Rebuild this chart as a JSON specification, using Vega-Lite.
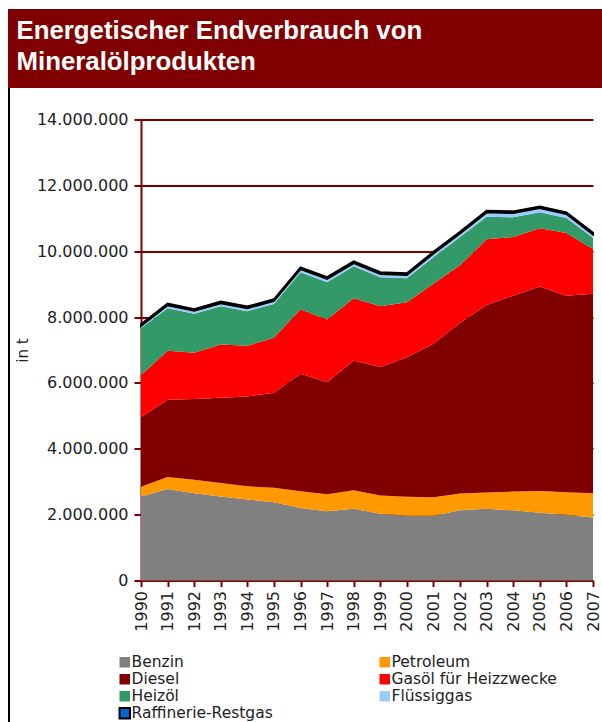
{
  "$schema": "https://vega.github.io/schema/vega-lite/v6.json",
  "background": "white",
  "padding": {"left": 8, "top": 9, "right": 0, "bottom": 0},
  "config": {
    "locale": {"number": {"decimal": ",", "thousands": ".", "grouping": [3], "currency": ["", " €"]}},
    "view": {"stroke": null},
    "concat": {"spacing": 0}
  },
  "datasets": {
    "verbrauch": [
      {"jahr": 1990, "sorte": "Benzin", "nr": 1, "tonnen": 2550000},
      {"jahr": 1990, "sorte": "Petroleum", "nr": 2, "tonnen": 300000},
      {"jahr": 1990, "sorte": "Diesel", "nr": 3, "tonnen": 2110000},
      {"jahr": 1990, "sorte": "Gasöl für Heizzwecke", "nr": 4, "tonnen": 1270000},
      {"jahr": 1990, "sorte": "Heizöl", "nr": 5, "tonnen": 1430000},
      {"jahr": 1990, "sorte": "Flüssiggas", "nr": 6, "tonnen": 70000},
      {"jahr": 1990, "sorte": "Raffinerie-Restgas", "nr": 7, "tonnen": 50000},
      {"jahr": 1991, "sorte": "Benzin", "nr": 1, "tonnen": 2780000},
      {"jahr": 1991, "sorte": "Petroleum", "nr": 2, "tonnen": 360000},
      {"jahr": 1991, "sorte": "Diesel", "nr": 3, "tonnen": 2350000},
      {"jahr": 1991, "sorte": "Gasöl für Heizzwecke", "nr": 4, "tonnen": 1490000},
      {"jahr": 1991, "sorte": "Heizöl", "nr": 5, "tonnen": 1290000},
      {"jahr": 1991, "sorte": "Flüssiggas", "nr": 6, "tonnen": 90000},
      {"jahr": 1991, "sorte": "Raffinerie-Restgas", "nr": 7, "tonnen": 50000},
      {"jahr": 1992, "sorte": "Benzin", "nr": 1, "tonnen": 2650000},
      {"jahr": 1992, "sorte": "Petroleum", "nr": 2, "tonnen": 410000},
      {"jahr": 1992, "sorte": "Diesel", "nr": 3, "tonnen": 2450000},
      {"jahr": 1992, "sorte": "Gasöl für Heizzwecke", "nr": 4, "tonnen": 1410000},
      {"jahr": 1992, "sorte": "Heizöl", "nr": 5, "tonnen": 1180000},
      {"jahr": 1992, "sorte": "Flüssiggas", "nr": 6, "tonnen": 90000},
      {"jahr": 1992, "sorte": "Raffinerie-Restgas", "nr": 7, "tonnen": 50000},
      {"jahr": 1993, "sorte": "Benzin", "nr": 1, "tonnen": 2550000},
      {"jahr": 1993, "sorte": "Petroleum", "nr": 2, "tonnen": 410000},
      {"jahr": 1993, "sorte": "Diesel", "nr": 3, "tonnen": 2590000},
      {"jahr": 1993, "sorte": "Gasöl für Heizzwecke", "nr": 4, "tonnen": 1620000},
      {"jahr": 1993, "sorte": "Heizöl", "nr": 5, "tonnen": 1160000},
      {"jahr": 1993, "sorte": "Flüssiggas", "nr": 6, "tonnen": 90000},
      {"jahr": 1993, "sorte": "Raffinerie-Restgas", "nr": 7, "tonnen": 50000},
      {"jahr": 1994, "sorte": "Benzin", "nr": 1, "tonnen": 2460000},
      {"jahr": 1994, "sorte": "Petroleum", "nr": 2, "tonnen": 400000},
      {"jahr": 1994, "sorte": "Diesel", "nr": 3, "tonnen": 2730000},
      {"jahr": 1994, "sorte": "Gasöl für Heizzwecke", "nr": 4, "tonnen": 1540000},
      {"jahr": 1994, "sorte": "Heizöl", "nr": 5, "tonnen": 1050000},
      {"jahr": 1994, "sorte": "Flüssiggas", "nr": 6, "tonnen": 90000},
      {"jahr": 1994, "sorte": "Raffinerie-Restgas", "nr": 7, "tonnen": 50000},
      {"jahr": 1995, "sorte": "Benzin", "nr": 1, "tonnen": 2380000},
      {"jahr": 1995, "sorte": "Petroleum", "nr": 2, "tonnen": 440000},
      {"jahr": 1995, "sorte": "Diesel", "nr": 3, "tonnen": 2880000},
      {"jahr": 1995, "sorte": "Gasöl für Heizzwecke", "nr": 4, "tonnen": 1670000},
      {"jahr": 1995, "sorte": "Heizöl", "nr": 5, "tonnen": 1030000},
      {"jahr": 1995, "sorte": "Flüssiggas", "nr": 6, "tonnen": 90000},
      {"jahr": 1995, "sorte": "Raffinerie-Restgas", "nr": 7, "tonnen": 50000},
      {"jahr": 1996, "sorte": "Benzin", "nr": 1, "tonnen": 2200000},
      {"jahr": 1996, "sorte": "Petroleum", "nr": 2, "tonnen": 510000},
      {"jahr": 1996, "sorte": "Diesel", "nr": 3, "tonnen": 3570000},
      {"jahr": 1996, "sorte": "Gasöl für Heizzwecke", "nr": 4, "tonnen": 1960000},
      {"jahr": 1996, "sorte": "Heizöl", "nr": 5, "tonnen": 1120000},
      {"jahr": 1996, "sorte": "Flüssiggas", "nr": 6, "tonnen": 100000},
      {"jahr": 1996, "sorte": "Raffinerie-Restgas", "nr": 7, "tonnen": 50000},
      {"jahr": 1997, "sorte": "Benzin", "nr": 1, "tonnen": 2100000},
      {"jahr": 1997, "sorte": "Petroleum", "nr": 2, "tonnen": 520000},
      {"jahr": 1997, "sorte": "Diesel", "nr": 3, "tonnen": 3400000},
      {"jahr": 1997, "sorte": "Gasöl für Heizzwecke", "nr": 4, "tonnen": 1910000},
      {"jahr": 1997, "sorte": "Heizöl", "nr": 5, "tonnen": 1130000},
      {"jahr": 1997, "sorte": "Flüssiggas", "nr": 6, "tonnen": 100000},
      {"jahr": 1997, "sorte": "Raffinerie-Restgas", "nr": 7, "tonnen": 50000},
      {"jahr": 1998, "sorte": "Benzin", "nr": 1, "tonnen": 2180000},
      {"jahr": 1998, "sorte": "Petroleum", "nr": 2, "tonnen": 560000},
      {"jahr": 1998, "sorte": "Diesel", "nr": 3, "tonnen": 3940000},
      {"jahr": 1998, "sorte": "Gasöl für Heizzwecke", "nr": 4, "tonnen": 1890000},
      {"jahr": 1998, "sorte": "Heizöl", "nr": 5, "tonnen": 970000},
      {"jahr": 1998, "sorte": "Flüssiggas", "nr": 6, "tonnen": 100000},
      {"jahr": 1998, "sorte": "Raffinerie-Restgas", "nr": 7, "tonnen": 50000},
      {"jahr": 1999, "sorte": "Benzin", "nr": 1, "tonnen": 2030000},
      {"jahr": 1999, "sorte": "Petroleum", "nr": 2, "tonnen": 550000},
      {"jahr": 1999, "sorte": "Diesel", "nr": 3, "tonnen": 3900000},
      {"jahr": 1999, "sorte": "Gasöl für Heizzwecke", "nr": 4, "tonnen": 1850000},
      {"jahr": 1999, "sorte": "Heizöl", "nr": 5, "tonnen": 880000},
      {"jahr": 1999, "sorte": "Flüssiggas", "nr": 6, "tonnen": 100000},
      {"jahr": 1999, "sorte": "Raffinerie-Restgas", "nr": 7, "tonnen": 50000},
      {"jahr": 2000, "sorte": "Benzin", "nr": 1, "tonnen": 1970000},
      {"jahr": 2000, "sorte": "Petroleum", "nr": 2, "tonnen": 570000},
      {"jahr": 2000, "sorte": "Diesel", "nr": 3, "tonnen": 4240000},
      {"jahr": 2000, "sorte": "Gasöl für Heizzwecke", "nr": 4, "tonnen": 1670000},
      {"jahr": 2000, "sorte": "Heizöl", "nr": 5, "tonnen": 730000},
      {"jahr": 2000, "sorte": "Flüssiggas", "nr": 6, "tonnen": 100000},
      {"jahr": 2000, "sorte": "Raffinerie-Restgas", "nr": 7, "tonnen": 50000},
      {"jahr": 2001, "sorte": "Benzin", "nr": 1, "tonnen": 1970000},
      {"jahr": 2001, "sorte": "Petroleum", "nr": 2, "tonnen": 560000},
      {"jahr": 2001, "sorte": "Diesel", "nr": 3, "tonnen": 4660000},
      {"jahr": 2001, "sorte": "Gasöl für Heizzwecke", "nr": 4, "tonnen": 1820000},
      {"jahr": 2001, "sorte": "Heizöl", "nr": 5, "tonnen": 810000},
      {"jahr": 2001, "sorte": "Flüssiggas", "nr": 6, "tonnen": 110000},
      {"jahr": 2001, "sorte": "Raffinerie-Restgas", "nr": 7, "tonnen": 50000},
      {"jahr": 2002, "sorte": "Benzin", "nr": 1, "tonnen": 2130000},
      {"jahr": 2002, "sorte": "Petroleum", "nr": 2, "tonnen": 510000},
      {"jahr": 2002, "sorte": "Diesel", "nr": 3, "tonnen": 5190000},
      {"jahr": 2002, "sorte": "Gasöl für Heizzwecke", "nr": 4, "tonnen": 1740000},
      {"jahr": 2002, "sorte": "Heizöl", "nr": 5, "tonnen": 860000},
      {"jahr": 2002, "sorte": "Flüssiggas", "nr": 6, "tonnen": 110000},
      {"jahr": 2002, "sorte": "Raffinerie-Restgas", "nr": 7, "tonnen": 50000},
      {"jahr": 2003, "sorte": "Benzin", "nr": 1, "tonnen": 2180000},
      {"jahr": 2003, "sorte": "Petroleum", "nr": 2, "tonnen": 490000},
      {"jahr": 2003, "sorte": "Diesel", "nr": 3, "tonnen": 5700000},
      {"jahr": 2003, "sorte": "Gasöl für Heizzwecke", "nr": 4, "tonnen": 1990000},
      {"jahr": 2003, "sorte": "Heizöl", "nr": 5, "tonnen": 690000},
      {"jahr": 2003, "sorte": "Flüssiggas", "nr": 6, "tonnen": 130000},
      {"jahr": 2003, "sorte": "Raffinerie-Restgas", "nr": 7, "tonnen": 50000},
      {"jahr": 2004, "sorte": "Benzin", "nr": 1, "tonnen": 2130000},
      {"jahr": 2004, "sorte": "Petroleum", "nr": 2, "tonnen": 570000},
      {"jahr": 2004, "sorte": "Diesel", "nr": 3, "tonnen": 5950000},
      {"jahr": 2004, "sorte": "Gasöl für Heizzwecke", "nr": 4, "tonnen": 1780000},
      {"jahr": 2004, "sorte": "Heizöl", "nr": 5, "tonnen": 600000},
      {"jahr": 2004, "sorte": "Flüssiggas", "nr": 6, "tonnen": 130000},
      {"jahr": 2004, "sorte": "Raffinerie-Restgas", "nr": 7, "tonnen": 50000},
      {"jahr": 2005, "sorte": "Benzin", "nr": 1, "tonnen": 2060000},
      {"jahr": 2005, "sorte": "Petroleum", "nr": 2, "tonnen": 660000},
      {"jahr": 2005, "sorte": "Diesel", "nr": 3, "tonnen": 6210000},
      {"jahr": 2005, "sorte": "Gasöl für Heizzwecke", "nr": 4, "tonnen": 1770000},
      {"jahr": 2005, "sorte": "Heizöl", "nr": 5, "tonnen": 480000},
      {"jahr": 2005, "sorte": "Flüssiggas", "nr": 6, "tonnen": 130000},
      {"jahr": 2005, "sorte": "Raffinerie-Restgas", "nr": 7, "tonnen": 50000},
      {"jahr": 2006, "sorte": "Benzin", "nr": 1, "tonnen": 2000000},
      {"jahr": 2006, "sorte": "Petroleum", "nr": 2, "tonnen": 680000},
      {"jahr": 2006, "sorte": "Diesel", "nr": 3, "tonnen": 5970000},
      {"jahr": 2006, "sorte": "Gasöl für Heizzwecke", "nr": 4, "tonnen": 1900000},
      {"jahr": 2006, "sorte": "Heizöl", "nr": 5, "tonnen": 460000},
      {"jahr": 2006, "sorte": "Flüssiggas", "nr": 6, "tonnen": 120000},
      {"jahr": 2006, "sorte": "Raffinerie-Restgas", "nr": 7, "tonnen": 50000},
      {"jahr": 2007, "sorte": "Benzin", "nr": 1, "tonnen": 1910000},
      {"jahr": 2007, "sorte": "Petroleum", "nr": 2, "tonnen": 740000},
      {"jahr": 2007, "sorte": "Diesel", "nr": 3, "tonnen": 6060000},
      {"jahr": 2007, "sorte": "Gasöl für Heizzwecke", "nr": 4, "tonnen": 1360000},
      {"jahr": 2007, "sorte": "Heizöl", "nr": 5, "tonnen": 340000},
      {"jahr": 2007, "sorte": "Flüssiggas", "nr": 6, "tonnen": 100000},
      {"jahr": 2007, "sorte": "Raffinerie-Restgas", "nr": 7, "tonnen": 50000}
    ]
  },
  "vconcat": [
    {
      "width": 594,
      "height": 79,
      "view": {"fill": "#800000", "stroke": null},
      "data": {"values": [{"zeile": "Energetischer Endverbrauch von"}, {"zeile": "Mineralölprodukten"}]},
      "mark": {"type": "text", "align": "left", "baseline": "alphabetic", "font": "Liberation Sans", "fontWeight": "bold", "fontSize": 25.8, "color": "#ffffff", "dx": 8.5, "dy": 6},
      "encoding": {
        "x": {"value": 0},
        "y": {"field": "zeile", "type": "nominal", "sort": null, "axis": null, "scale": {"type": "point", "padding": 0.787}},
        "text": {"field": "zeile"}
      }
    },
    {
      "hconcat": [
        {
          "width": 2,
          "height": 666,
          "view": {"fill": "#000000", "stroke": null},
          "data": {"values": []},
          "mark": "point"
        },
        {
          "width": 452,
          "height": 461,
          "data": {"name": "verbrauch"},
          "mark": {"type": "area", "opacity": 1, "strokeWidth": 2, "interpolate": "linear"},
          "encoding": {
            "x": {
              "field": "jahr", "type": "quantitative",
              "scale": {"domain": [1990, 2007], "nice": false, "zero": false},
              "axis": {
                "title": null,
                "values": [1990, 1991, 1992, 1993, 1994, 1995, 1996, 1997, 1998, 1999, 2000, 2001, 2002, 2003, 2004, 2005, 2006, 2007],
                "format": "d",
                "labelAngle": 270, "labelAlign": "right", "labelBaseline": "middle",
                "labelFont": "DejaVu Sans", "labelFontSize": 16, "labelColor": "#222222",
                "labelPadding": 4, "labelOverlap": false, "labelFlush": false,
                "grid": false,
                "domainColor": "#800000", "domainWidth": 2,
                "tickColor": "#800000", "tickWidth": 2, "tickSize": 6
              }
            },
            "y": {
              "field": "tonnen", "type": "quantitative", "aggregate": "sum", "stack": "zero",
              "scale": {"domain": [0, 14000000], "nice": false},
              "axis": {
                "title": "in t",
                "titleFont": "DejaVu Sans", "titleFontSize": 15, "titleFontWeight": "normal", "titleColor": "#222222", "titlePadding": 6,
                "values": [0, 2000000, 4000000, 6000000, 8000000, 10000000, 12000000, 14000000],
                "format": ",d",
                "labelFont": "DejaVu Sans", "labelFontSize": 16, "labelColor": "#222222", "labelPadding": 6,
                "grid": true, "gridColor": "#800000", "gridWidth": 2,
                "domainColor": "#800000", "domainWidth": 2,
                "tickColor": "#800000", "tickWidth": 2, "tickSize": 7
              }
            },
            "order": {"field": "nr", "type": "quantitative"},
            "fill": {
              "field": "sorte", "type": "nominal",
              "scale": {
                "domain": ["Benzin", "Diesel", "Heizöl", "Raffinerie-Restgas", "Petroleum", "Gasöl für Heizzwecke", "Flüssiggas"],
                "range": ["#808080", "#800000", "#339966", "#0066cc", "#ff9900", "#ff0000", "#99ccff"]
              },
              "legend": {
                "title": null, "orient": "none", "legendX": -24, "legendY": 535,
                "columns": 2, "columnPadding": 102, "rowPadding": -5,
                "symbolType": "square", "symbolSize": 110, "symbolStrokeWidth": 2,
                "labelFont": "DejaVu Sans", "labelFontSize": 15.5, "labelColor": "#222222",
                "labelLimit": 300, "labelOffset": -1
              }
            },
            "stroke": {
              "field": "sorte", "type": "nominal",
              "scale": {
                "domain": ["Benzin", "Diesel", "Heizöl", "Raffinerie-Restgas", "Petroleum", "Gasöl für Heizzwecke", "Flüssiggas"],
                "range": ["transparent", "transparent", "transparent", "#000000", "transparent", "transparent", "transparent"]
              }
            }
          }
        }
      ],
      "resolve": {"legend": {"fill": "independent", "stroke": "independent"}},
      "spacing": 5,
      "center": true,
      "align": "each"
    }
  ],
  "resolve": {"legend": {"fill": "independent", "stroke": "independent"}}
}
